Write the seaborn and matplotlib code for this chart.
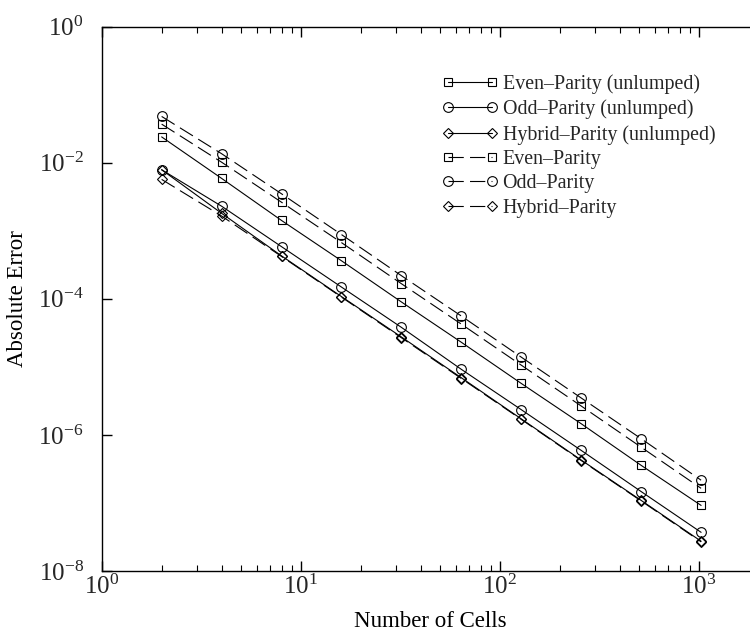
import matplotlib
matplotlib.use("Agg")
import matplotlib.pyplot as plt
import matplotlib.ticker as mticker
import numpy as np
import pandas as pd
import seaborn as sns

# ---------------- data ----------------
cells = [2, 4, 8, 16, 32, 64, 128, 256, 512, 1024]
even_unlumped = [2.4e-2, 5.9e-3, 1.42e-3, 3.63e-4, 9.0e-5, 2.30e-5, 5.71e-6, 1.46e-6, 3.57e-7, 9.2e-8]
odd_unlumped = [7.9e-3, 2.3e-3, 5.85e-4, 1.49e-4, 3.81e-5, 9.2e-6, 2.35e-6, 5.92e-7, 1.47e-7, 3.70e-8]
hybrid_unlumped = [7.9e-3, 1.81e-3, 4.28e-4, 1.08e-4, 2.75e-5, 6.92e-6, 1.72e-6, 4.27e-7, 1.09e-7, 2.74e-8]
even_lumped = [3.7e-2, 1.02e-2, 2.63e-3, 6.71e-4, 1.67e-4, 4.25e-5, 1.06e-5, 2.66e-6, 6.60e-7, 1.64e-7]
odd_lumped = [4.8e-2, 1.36e-2, 3.50e-3, 8.81e-4, 2.19e-4, 5.59e-5, 1.39e-5, 3.49e-6, 8.80e-7, 2.16e-7]
hybrid_lumped = [5.7e-3, 1.65e-3, 4.2e-4, 1.06e-4, 2.68e-5, 6.75e-6, 1.69e-6, 4.2e-7, 1.07e-7, 2.68e-8]

series_labels = [
    "Even\u2013Parity (unlumped)",
    "Odd\u2013Parity (unlumped)",
    "Hybrid\u2013Parity (unlumped)",
    "Even\u2013Parity",
    "Odd\u2013Parity",
    "Hybrid\u2013Parity",
]
series_values = [even_unlumped, odd_unlumped, hybrid_unlumped,
                 even_lumped, odd_lumped, hybrid_lumped]

x_label = "Number of Cells"
y_label = "Absolute Error"

# ---------------- style ----------------
sns.set_theme(style="ticks")
plt.rcParams["font.family"] = ["Liberation Serif", "DejaVu Serif"]
plt.rcParams["mathtext.fontset"] = "custom"
plt.rcParams["mathtext.rm"] = "Liberation Serif"
plt.rcParams["mathtext.it"] = "Liberation Serif:italic"
plt.rcParams["mathtext.bf"] = "Liberation Serif:bold"
plt.rcParams["lines.scale_dashes"] = False

fig = plt.figure(figsize=(7.5, 6.34), dpi=100)
ax = fig.add_axes([101.7 / 750, (634 - 571) / 634, (759 - 101.7) / 750, (571 - 26.7) / 634])

markers = ["s", "o", "D", "s", "o", "D"]
msizes = [6.0, 7.0, 5.0, 6.0, 7.0, 5.0]
dashed = [False, False, False, True, True, True]

frames = []
for lab, vals in zip(series_labels, series_values):
    frames.append(pd.DataFrame({"cells": cells, "error": vals, "series": lab}))
df = pd.concat(frames, ignore_index=True)

for lab, mk, ms, dsh in zip(series_labels, markers, msizes, dashed):
    sub = df[df["series"] == lab]
    kw = dict(color="black", linewidth=0.8, marker=mk, markersize=ms,
              markerfacecolor="none", markeredgecolor="black",
              markeredgewidth=0.8, label=lab)
    sns.lineplot(data=sub, x="cells", y="error", ax=ax, **kw)
    line = ax.get_lines()[-1]
    if dsh:
        line.set_dashes((11, 4.5))

ax.set_xscale("log")
ax.set_yscale("log")
ax.set_xlim(1, 2000)
ax.set_ylim(1e-8, 1)

ax.xaxis.set_major_locator(mticker.LogLocator(base=10, numticks=10))
ax.xaxis.set_minor_locator(mticker.LogLocator(base=10, subs=np.arange(2, 10), numticks=20))
ax.xaxis.set_minor_formatter(mticker.NullFormatter())
ax.yaxis.set_major_locator(mticker.FixedLocator([1e-8, 1e-6, 1e-4, 1e-2, 1e0]))
ax.yaxis.set_minor_locator(mticker.NullLocator())
ax.yaxis.set_major_formatter(mticker.LogFormatterSciNotation())

ax.tick_params(axis="x", which="major", direction="in", length=7, width=1.0,
               top=True, bottom=True, labelsize=18, pad=3, color="black")
ax.tick_params(axis="x", which="minor", direction="in", length=4, width=0.8,
               top=True, bottom=True, color="black")
ax.tick_params(axis="y", which="major", direction="in", length=7, width=1.0,
               left=True, right=False, labelsize=18, pad=13, color="black")

for side in ["left", "bottom", "top", "right"]:
    ax.spines[side].set_visible(True)
    ax.spines[side].set_linewidth(1.0)
    ax.spines[side].set_color("black")

ax.set_xlabel(x_label, fontsize=16.5, color="black")
ax.set_ylabel(y_label, fontsize=16.5, color="black")
ax.xaxis.set_label_coords(0.5, -0.074)
ax.yaxis.set_label_coords(-0.112, 0.5)

leg = ax.legend(loc="upper left", bbox_to_anchor=(0.517, 0.912), frameon=False,
                numpoints=2, fontsize=14.4, handlelength=2.8, handletextpad=0.25,
                labelspacing=0.27, borderpad=0, borderaxespad=0)

fig.savefig("out.png", dpi=100)
